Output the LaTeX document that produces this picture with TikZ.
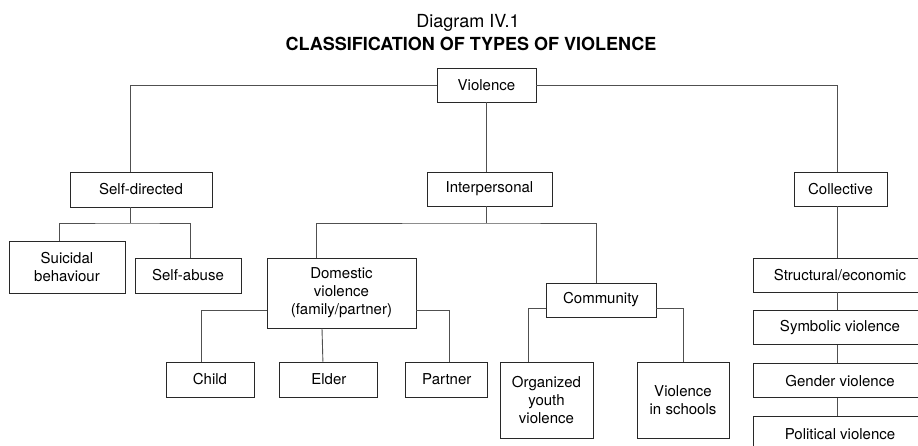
\documentclass[tikz,border=0pt]{standalone}
\usepackage{fontspec}
\setmainfont{TeX Gyre Heros}
\usetikzlibrary{positioning}
\definecolor{linegray}{RGB}{80, 80, 80}
\definecolor{boxgray}{RGB}{40, 40, 40}
\tikzset{
    % Node Styles
    box/.style={
        rectangle, draw=boxgray, line width=0.9pt, inner sep=0pt,
        minimum height=34pt, align=center,
        font=\fontsize{15}{18}\selectfont
    },
    % Connector Styles
    link/.style={line width=0.9pt, color=linegray},
    heading/.style={font=\fontsize{18}{21}\selectfont, inner sep=0pt, anchor=base}
}

\begin{document}
\begin{tikzpicture}[x=1pt, y=-1pt, node distance=18pt and 25pt]

    \useasboundingbox (0,0) rectangle (918,445);
    \clip (0,0) rectangle (918,445);

    % --- Title ---
    \node [heading] (caption) at (468,27) {Diagram IV.1};
    \node [heading, font=\fontsize{18}{21}\selectfont\bfseries] (title) at (471,50) {CLASSIFICATION OF TYPES OF VIOLENCE};

    % --- 1. Root ---
    \node [box, minimum width=99pt] (violence) at (486.5,85) {Violence};

    % --- 2. Main Types ---
    \node [box, minimum width=142pt, minimum height=35pt] (selfdir) at (141,189.5) {Self-directed};
    \node [box, minimum width=125pt] (interp) at (489.5,189) {Interpersonal};
    \node [box, minimum width=93pt] (collective) at (840.5,189) {Collective};

    \draw [link] (violence.west) -| ([xshift=-11pt]selfdir.north);
    \draw [link] (violence.east) -| ([xshift=-3.5pt]collective.north);
    \draw [link] (violence.south) -- (violence.south |- interp.north);

    % --- 3. Self-directed ---
    \node [box, minimum width=116pt, minimum height=52pt] (suicidal) at (67,267) {Suicidal\\behaviour};
    \node [box, minimum width=106pt, minimum height=35pt] (selfabuse) at (188,275.5) {Self-abuse};

    \coordinate (sdbus) at (130,223);
    \draw [link] (selfdir.south -| sdbus) -- (sdbus);
    \draw [link] ([xshift=-8pt]suicidal.north) |- (sdbus) -| ([xshift=2pt]selfabuse.north);

    % --- 4. Interpersonal ---
    \node [box, minimum width=149pt, minimum height=70pt] (domestic) at (341.5,293) {Domestic\\violence\\(family/partner)};
    \node [box, minimum width=110pt] (community) at (601,300) {Community};

    \coordinate (ipbus) at (486,223);
    \draw [link] (interp.south -| ipbus) -- (ipbus);
    \draw [link] ([xshift=-25.5pt]domestic.north) |- (ipbus) -| ([xshift=-5pt]community.north);

    % Domestic violence
    \node [box, minimum width=88pt, minimum height=35pt] (child) at (210,379.5) {Child};
    \node [box, minimum width=98pt, minimum height=35pt, right=of child] (elder) {Elder};
    \node [box, minimum width=82pt, minimum height=35pt, right=27pt of elder] (partner) {Partner};

    \draw [link] ([yshift=-17pt]domestic.west) -| ([xshift=-9pt]child.north);
    \draw [link] ([xshift=-19.5pt]domestic.south) -- ([xshift=-6pt]elder.north);
    \draw [link] ([yshift=-17pt]domestic.east) -| ([xshift=3pt]partner.north);

    % Community
    \node [box, minimum width=93pt, minimum height=76pt] (organized) at (546.5,400) {Organized\\youth\\violence};
    \node [box, minimum width=92pt, minimum height=76pt] (schools) at (683,400) {Violence\\in schools};

    \draw [link] ([yshift=-8pt]community.west) -| ([xshift=-18.5pt]organized.north);
    \draw [link] ([yshift=-8pt]community.east) -| (schools.north);

    % --- 5. Collective ---
    \node [box, minimum width=174pt] (structural) at (840,275) {Structural/economic};
    \node [box, minimum width=174pt, below=of structural] (symbolic) {Symbolic violence};
    \node [box, minimum width=174pt, below=of symbolic] (gender) {Gender violence};
    \node [box, minimum width=174pt, below=of gender] (political) {Political violence};

    \draw [link] ([xshift=-3.5pt]collective.south) -- ([xshift=-3pt]structural.north);
    \draw [link] ([xshift=-3pt]structural.south) -- ([xshift=-3pt]symbolic.north);
    \draw [link] ([xshift=-3pt]symbolic.south) -- ([xshift=-3pt]gender.north);
    \draw [link] ([xshift=-3pt]gender.south) -- ([xshift=-3pt]political.north);

\end{tikzpicture}
\end{document}
